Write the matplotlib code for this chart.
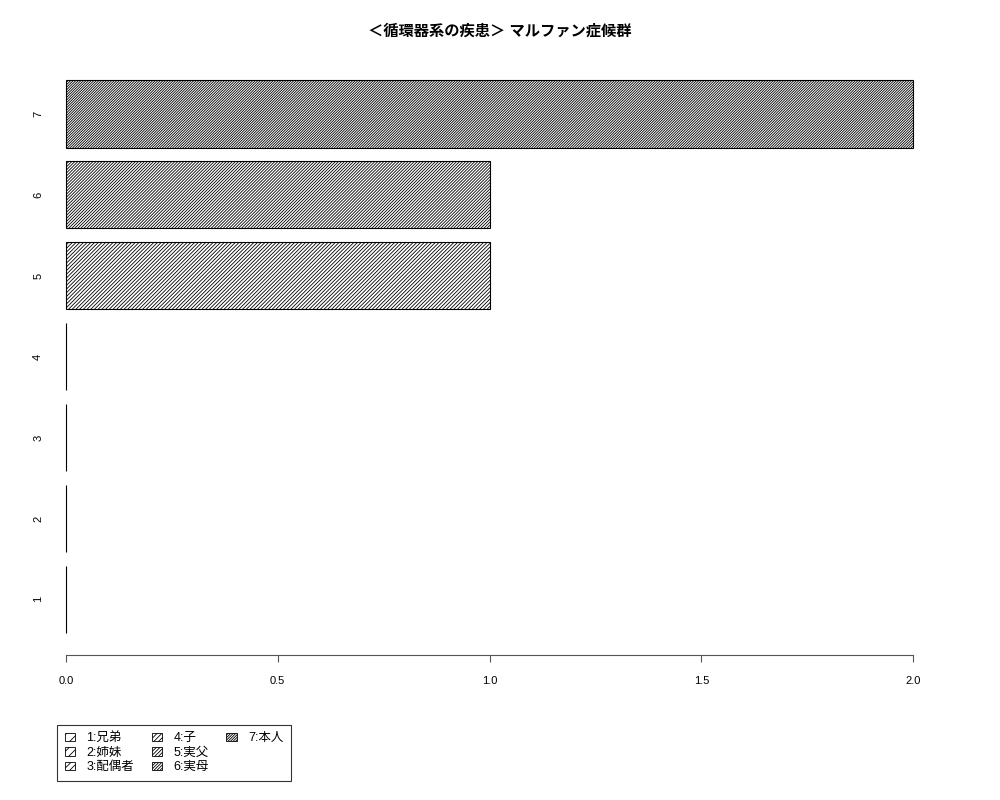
import matplotlib
matplotlib.use('Agg')
import matplotlib.pyplot as plt
from matplotlib.patches import Patch

plt.rcParams['font.family'] = ['Liberation Sans', 'Noto Sans CJK JP', 'DejaVu Sans']
plt.rcParams['hatch.linewidth'] = 0.6

# データ
categories = ['1', '2', '3', '4', '5', '6', '7']
values = [0, 0, 0, 0, 1, 1, 2]
legend_labels = ['1:兄弟', '2:姉妹', '3:配偶者', '4:子', '5:実父', '6:実母', '7:本人']
hatches = ['/' * 3, '/' * 4, '/' * 5, '/' * 7, '/' * 9, '/' * 11, '/' * 13]
title = '＜循環器系の疾患＞ マルファン症候群'

fig = plt.figure(figsize=(10, 8), dpi=100)
ax = fig.add_axes([0.032, 0.181, 0.915, 0.7465])

# R の barplot と同じ位置 (width 1, space 0.2)
ypos = [0.7 + 1.2 * i for i in range(len(values))]
for y, v, h in zip(ypos, values, hatches):
    ax.barh(y, v, height=1.0, left=0, color='white', edgecolor='black',
            hatch=h, linewidth=0.8)

ax.set_xlim(-0.08, 2.08)
ax.set_ylim(-0.128, 8.728)
ax.set_xticks([0.0, 0.5, 1.0, 1.5, 2.0])
ax.set_xticklabels(['0.0', '0.5', '1.0', '1.5', '2.0'], fontsize=8)
ax.set_yticks(ypos)
ax.set_yticklabels(categories, fontsize=8, rotation=90, va='center')
ax.tick_params(axis='y', length=0, pad=-8)
ax.tick_params(axis='x', length=5, pad=10, color='#555555')
for s in ['top', 'right', 'left']:
    ax.spines[s].set_visible(False)
ax.spines['bottom'].set_bounds(0, 2)
ax.spines['bottom'].set_color('#555555')

fig.suptitle(title, fontsize=11, fontweight='bold', y=0.97)

handles = [Patch(facecolor='white', edgecolor='black', hatch=h, linewidth=0.6) for h in hatches]
labels = list(legend_labels)
# 3列目を「7」だけにするための空の項目
handles.append(Patch(facecolor='none', edgecolor='none'))
labels.append('')
leg = fig.legend(handles, labels, loc='upper left', bbox_to_anchor=(0.057, 0.094),
                 ncol=3, fontsize=9, frameon=True, fancybox=False, edgecolor='black',
                 handlelength=0.85, handleheight=0.7, handletextpad=0.9, columnspacing=1.4,
                 labelspacing=0.2, borderpad=0.6, borderaxespad=0)
leg.get_frame().set_linewidth(0.8)

fig.savefig('out.png', dpi=100)
